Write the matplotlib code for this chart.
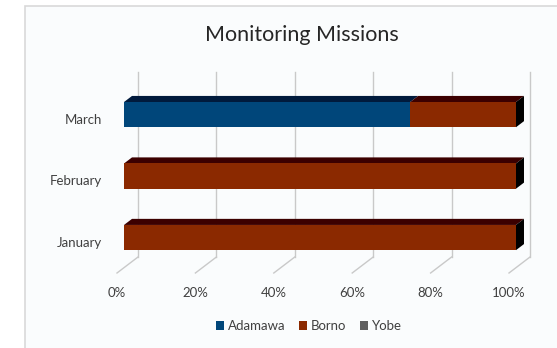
import matplotlib
matplotlib.use("Agg")
import matplotlib.pyplot as plt
from matplotlib.patches import Rectangle, Polygon
from matplotlib.transforms import Affine2D
import numpy as np

plt.rcParams['font.family'] = ['Lato', 'DejaVu Sans']

title = "Monitoring Missions"
months = ["January", "February", "March"]
adamawa = [0, 0, 73]
borno = [100, 100, 27]
yobe = [0, 0, 0]
series_names = ["Adamawa", "Borno", "Yobe"]
xticks = [0, 20, 40, 60, 80, 100]
xtick_labels = ["0%", "20%", "40%", "60%", "80%", "100%"]

front_cols = ["#00467A", "#8B2900", "#5F5F5F"]
top_cols = ["#001A3C", "#3C0000", "#2A2A2A"]
side_col = "#000000"

DPI = 100
fig = plt.figure(figsize=(5.57, 3.48), dpi=DPI)
fig.patch.set_facecolor("white")
bg = Rectangle((25 / 557, -0.05), 1.0, 1 - 6 / 348 + 0.05,
               transform=fig.transFigure, facecolor="#FAFCFD",
               edgecolor="#D9D9D9", linewidth=1.2, zorder=-10)
fig.patches.append(bg)

ax = fig.add_axes([117 / 557, (348 - 273) / 348, 392 / 557, (273 - 88) / 348])
ax.set_zorder(1)
ax.set_xlim(0, 100)
ax.set_ylim(-0.49, 2.52)
ax.axis("off")
ax.patch.set_visible(False)

DX, DY = 21.0, 16.0  # full-depth offset in pixels
d_front, d_back = 1 / 3, 0.714
grid_col = "#C9C9C9"


def off(d):
    return ax.transData + Affine2D().translate(DX * d, DY * d)


def disp(x, y, d):
    px, py = ax.transData.transform((x, y))
    return (px + DX * d, py + DY * d)


ylo, yhi = ax.get_ylim()
# back wall gridlines and floor diagonals
for xv in xticks:
    ax.plot([xv, xv], [ylo, yhi], color=grid_col, lw=1.0, transform=off(1.0),
            zorder=1, clip_on=False)
    p0 = disp(xv, ylo, 0)
    p1 = disp(xv, ylo, 1.0)
    ax.add_line(plt.Line2D([p0[0], p1[0]], [p0[1], p1[1]], color=grid_col, lw=1.0,
                           transform=None, zorder=1, clip_on=False))

h = 0.41
ypos = np.arange(len(months))
series = [adamawa, borno, yobe]
for i, y in enumerate(ypos):
    left = 0
    vals = [s[i] for s in series]
    for k, v in enumerate(vals):
        if v <= 0:
            continue
        ax.barh(y, v, left=left, height=h, color=front_cols[k], edgecolor="none",
                transform=off(d_front), zorder=4, clip_on=False)
        ytop = y + h / 2
        pts = [disp(left, ytop, d_front), disp(left + v, ytop, d_front),
               disp(left + v, ytop, d_back), disp(left, ytop, d_back)]
        ax.add_patch(Polygon(pts, closed=True, facecolor=top_cols[k], edgecolor="none",
                             transform=None, zorder=3, clip_on=False))
        left += v
    ybot, ytop = y - h / 2, y + h / 2
    pts = [disp(left, ybot, d_front), disp(left, ytop, d_front),
           disp(left, ytop, d_back), disp(left, ybot, d_back)]
    ax.add_patch(Polygon(pts, closed=True, facecolor=side_col, edgecolor="none",
                         transform=None, zorder=3, clip_on=False))

# category labels
for y, m in zip(ypos, months):
    ax.annotate(m, xy=(0, y), xytext=(-15, 0), textcoords="offset pixels",
                ha="right", va="center", fontsize=9.5, color="#404040")
# x tick labels
for xv, lab in zip(xticks, xtick_labels):
    ax.annotate(lab, xy=(xv, ylo), xytext=(0, -20), textcoords="offset pixels",
                ha="center", va="center", fontsize=9.5, color="#404040")

fig.text(302 / 557, 1 - 35 / 348, title, ha="center", va="center", fontsize=15.5,
         color="#262626")

handles = [Rectangle((0, 0), 1, 1, facecolor=c, edgecolor="none") for c in front_cols]
fig.legend(handles, series_names, loc="center", bbox_to_anchor=(309 / 557, 1 - 326 / 348),
           ncol=3, frameon=False, fontsize=9.5, handlelength=0.6, handleheight=0.6,
           handletextpad=0.3, columnspacing=1.0, labelcolor="#404040")

fig.savefig("out.png", dpi=DPI)
